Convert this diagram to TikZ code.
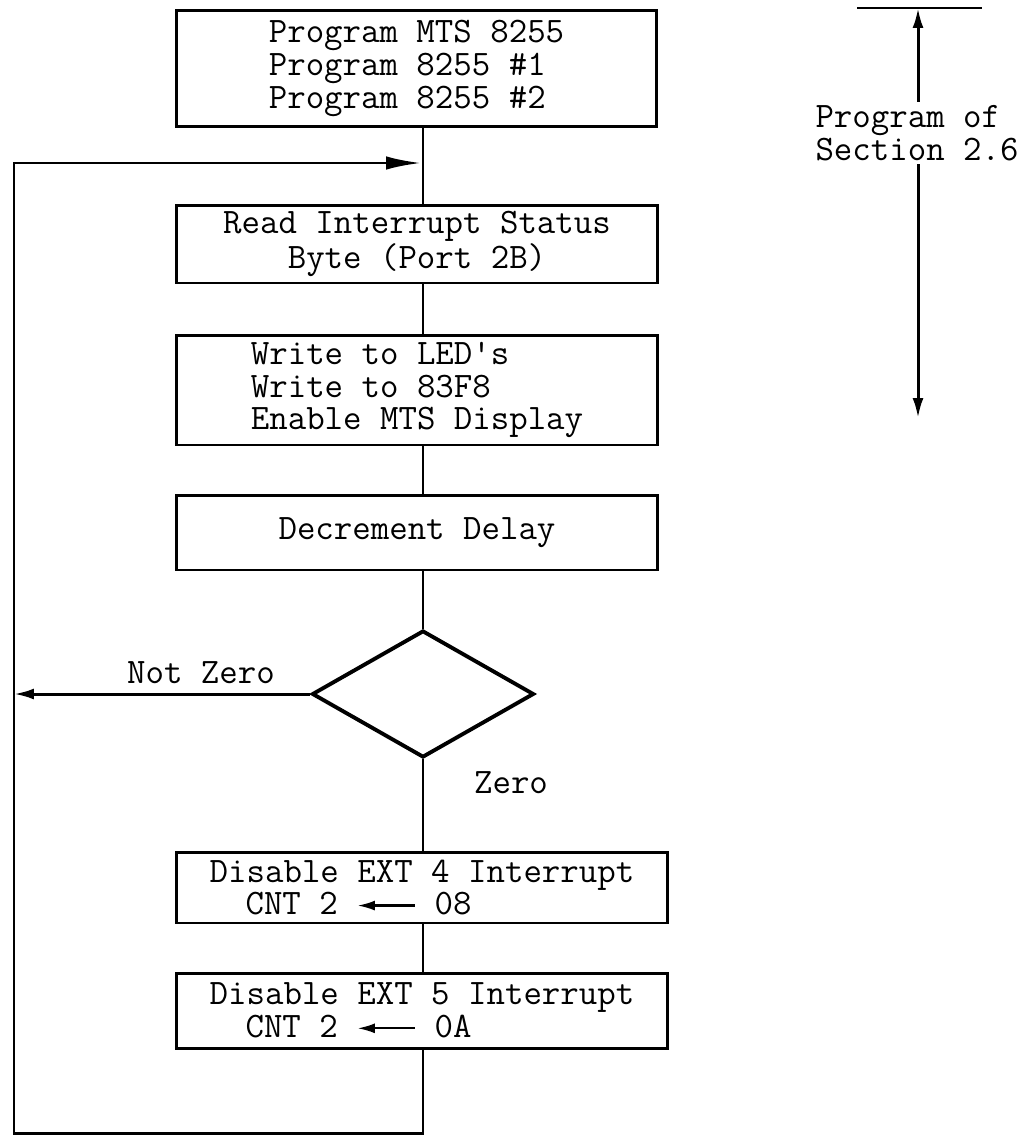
\documentclass[tikz,border=0pt]{standalone}
\usepackage{tikz}
\usetikzlibrary{arrows.meta,positioning,shapes.geometric}
\tikzset{%
	procbox/.style  = {draw, rectangle, line width=1.7pt, inner sep=0pt, text centered, font=\ttfamily\fontsize{20.4}{18.6}\selectfont},
	decision/.style = {draw, diamond, line width=2.2pt, inner sep=0pt, minimum width=4.44cm, minimum height=2.54cm},
	lbl/.style      = {font=\ttfamily\fontsize{20.4}{18.6}\selectfont},
	link/.style     = {line width=1.7pt},
	flow/.style     = {line width=1.7pt, -{Latex[length=4mm,width=2.2mm]}},
	loopflow/.style = {line width=1.7pt, -{Latex[length=7mm,width=2.7mm]}},
}
\newcommand{\cntarrow}{\tikz[baseline=-0.6ex]\draw[line width=1.3pt,-{Latex[length=3.5mm,width=2mm]}] (1.15cm,0) -- (0cm,0);}

\begin{document}
\begin{tikzpicture}[x=0.02cm,y=-0.02cm]
	\useasboundingbox (0,0) rectangle (1034,1136);

	\node[procbox, minimum width=9.62cm, minimum height=2.34cm, align=left] (init) at (416.5,68.5) {Program MTS 8255\\Program 8255 \#1\\Program 8255 \#2};
	\node[procbox, minimum width=9.62cm, minimum height=1.56cm, align=center] (rdstat) at (417,244) {Read Interrupt Status\\Byte (Port 2B)};
	\node[procbox, minimum width=9.62cm, minimum height=2.2cm, align=left] (wrled) at (417,390) {Write to LED's\\Write to 83F8\\Enable MTS Display};
	\node[procbox, minimum width=9.62cm, minimum height=1.5cm] (decdel) at (417,532.5) {Decrement Delay};
	\node[decision] (zero) at (423,694) {};
	\node[procbox, minimum width=9.84cm, minimum height=1.42cm, align=left] (ext4) at (422,887.5) {Disable EXT 4 Interrupt\\\hspace*{1em}CNT 2 \cntarrow{} 08};
	\node[procbox, minimum width=9.84cm, minimum height=1.5cm, align=left] (ext5) at (422,1010.5) {Disable EXT 5 Interrupt\\\hspace*{1em}CNT 2 \cntarrow{} 0A};

	\node[lbl] (nzlab) at (201,673) {Not Zero};
	\node[lbl] (zlab) at (511,783) {Zero};

	\coordinate (botL) at (14,1133);
	\coordinate (entry) at (421,163);
	\coordinate (loopL) at (14,694);

	\draw[link] (init.south -| zero.north) -- (rdstat.north -| zero.north);
	\draw[link] (rdstat.south -| zero.north) -- (wrled.north -| zero.north);
	\draw[link] (wrled.south -| zero.north) -- (decdel.north -| zero.north);
	\draw[link] (decdel.south -| zero.north) -- (zero.north);
	\draw[link] (zero.south) -- (ext4.north -| zero.south);
	\draw[link] (ext4.south -| zero.south) -- (ext5.north -| zero.south);
	\draw[loopflow] (ext5.south -| zero.south) |- (botL) |- (entry);
	\draw[flow] (zero.west) -- (loopL);

	% program of section 2.6
	\coordinate (barL) at (857,8);
	\coordinate (barR) at (982,8);
	\coordinate (bartop) at (918,8);
	\coordinate (barbot) at (918,418);
	\node[lbl, align=left, inner sep=2pt] (sect) at (917,133) {Program of\\Section 2.6};
	\draw[link] (barL) -- (barR);
	\draw[flow] (sect.north -| bartop) -- (bartop);
	\draw[flow] (sect.south -| bartop) -- (barbot);
\end{tikzpicture}
\end{document}
